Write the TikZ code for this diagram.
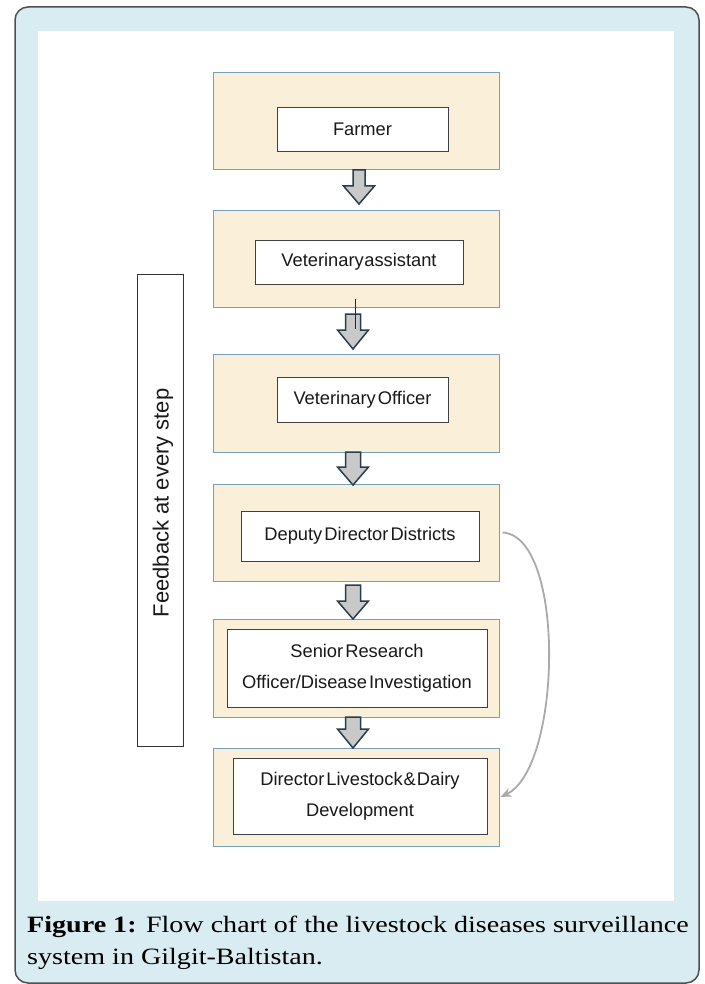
\documentclass[tikz,border=0pt]{standalone}
\usepackage{fontspec}
\setmainfont{Liberation Sans}
\newfontfamily\boxfont[WordSpace=0.4]{Liberation Sans}
\newfontfamily\capfont[FakeStretch=1.2]{Liberation Serif}
\usetikzlibrary{arrows.meta}
\definecolor{outerfill}{RGB}{217,236,241}
\definecolor{outerline}{RGB}{80,80,80}
\definecolor{beige}{RGB}{250,240,218}
\definecolor{beigeline}{RGB}{118,160,183}
\definecolor{arrfill}{RGB}{201,201,201}
\definecolor{arrline}{RGB}{40,62,76}
\definecolor{curvecol}{RGB}{170,170,170}
\tikzset{
  beigebox/.style={draw=beigeline, line width=1pt, fill=beige, minimum width=286pt, inner sep=0pt},
  whitebox/.style={draw=black!75, line width=0.9pt, fill=white, inner sep=0pt, font=\boxfont\fontsize{18.3}{31}\selectfont, align=center, text=black!90},
  blockarrow/.style={draw=arrline, fill=arrfill, line width=1.5pt, line join=miter},
}
\newcommand\blkarrow[5]{%
  \draw[blockarrow] (#1-#5,#2) -- (#1+#5,#2) -- (#1+#5,#3) -- (#1+15.5,#3) -- (#1,#4) -- (#1-15.5,#3) -- (#1-#5,#3) -- cycle;}
\begin{document}
\begin{tikzpicture}[x=1pt,y=-1pt]
\useasboundingbox (0,0) rectangle (704,984);
% frame
\draw[fill=outerfill, draw=outerline, line width=1.5pt, rounded corners=13pt] (15,7) rectangle (699,983);
\fill[white] (38,31) rectangle (674,901);
% beige boxes
\node[beigebox, minimum height=97pt] (b1) at (356,121.5) {};
\node[beigebox, minimum height=96pt] (b2) at (356,259) {};
\node[beigebox, minimum height=98pt] (b3) at (356,403) {};
\node[beigebox, minimum height=97pt] (b4) at (356,532.5) {};
\node[beigebox, minimum height=98pt] (b5) at (356,668) {};
\node[beigebox, minimum height=98pt] (b6) at (356,797) {};
% white boxes
\node[whitebox, minimum width=171pt, minimum height=44pt] (farmer) at (362.5,129) {Farmer};
\node[whitebox, minimum width=208pt, minimum height=44pt] (va) at (359,262) {Veterinary\hspace{0.5pt}assistant};
\node[whitebox, minimum width=171pt, minimum height=45pt] (vo) at (362.5,399.5) {Veterinary Officer};
\node[whitebox, minimum width=238pt, minimum height=50pt] (dd) at (360,536) {Deputy Director Districts};
\node[whitebox, minimum width=260pt, minimum height=78pt] (sro) at (357,668) {Senior Research\\Officer/Disease Investigation};
\node[whitebox, minimum width=254pt, minimum height=76pt] (dir) at (360,796) {Director Livestock\hspace{1pt}\&\hspace{1pt}Dairy\\Development};
% block arrows
\blkarrow{359}{170}{186}{204}{6}
\blkarrow{353}{314}{330}{349}{7.5}
\blkarrow{353}{452}{467}{485}{7.5}
\blkarrow{353}{585}{601}{619}{7.5}
\blkarrow{353}{717}{729}{748}{7.5}
% thin line over arrow 2
\coordinate (tl1) at (355,299);
\coordinate (tl2) at (355,329);
\draw[black!85, line width=0.9pt] (tl1) -- (tl2);
% feedback box
\node[draw=black!80, line width=0.9pt, fill=white, minimum width=46pt, minimum height=472pt, inner sep=0pt] (fb) at (160,510) {};
\node[rotate=90, font=\fontsize{22}{26}\selectfont, text=black!90] (fbt) at (163,503) {Feedback at every step};
% curved arrow
\draw[curvecol, line width=1.8pt, -{Stealth[length=11pt,width=9pt]}] ([xshift=3pt]b4.east) .. controls (566,536) and (562,768) .. ([xshift=1pt]b6.east);
% caption
\node[anchor=base west, inner sep=0pt, font=\capfont\fontsize{23.4}{30}\selectfont, text=black] (cap1) at (27,932) {\textbf{Figure 1:} Flow chart of the livestock diseases surveillance};
\node[anchor=base west, inner sep=0pt, font=\capfont\fontsize{23.4}{30}\selectfont, text=black] (cap2) at (27,964) {system in Gilgit-Baltistan.};
\end{tikzpicture}
\end{document}
